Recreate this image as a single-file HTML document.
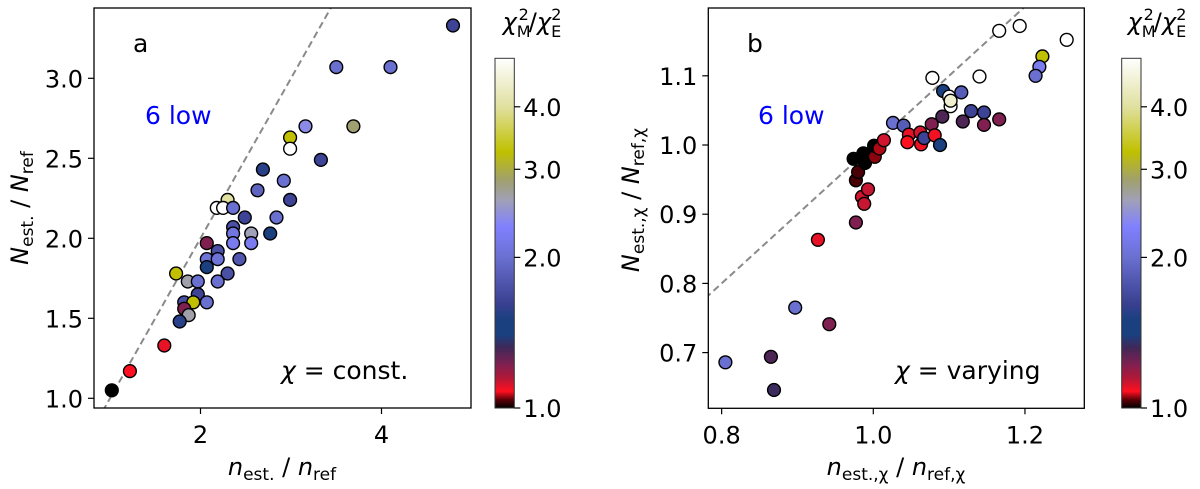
<!DOCTYPE html>
<html><head><meta charset="utf-8"><style>
html,body{margin:0;padding:0;background:#fff;}
svg{display:block;font-family:"DejaVu Sans","Liberation Sans",sans-serif;}
</style></head><body>
<svg id="fig" width="1200" height="489" viewBox="0 0 1200 489" xmlns="http://www.w3.org/2000/svg">
<defs>
<linearGradient id="cmap" x1="0" y1="1" x2="0" y2="0"></linearGradient>
</defs>
</svg>
<script>
// ---- data: panel a ----
const aX = [4.79,3.50,4.10,3.69,3.16,2.99,2.99,3.33,2.69,2.92,2.63,2.99,2.30,2.18,2.25,2.36,2.49,2.84,2.36,2.36,2.56,2.77,2.36,2.56,2.07,2.19,2.07,2.19,2.43,2.07,1.73,2.30,1.86,1.97,2.19,1.97,1.82,1.92,2.07,1.82,1.87,1.77,1.60,1.22,1.02];
const aY = [3.33,3.07,3.07,2.70,2.70,2.63,2.56,2.49,2.43,2.36,2.30,2.24,2.24,2.19,2.19,2.19,2.13,2.13,2.07,2.03,2.03,2.03,1.97,1.97,1.97,1.92,1.87,1.87,1.87,1.82,1.78,1.78,1.73,1.73,1.73,1.65,1.60,1.60,1.60,1.56,1.52,1.48,1.33,1.17,1.05];
const aC = [1.65,2.0,2.0,2.85,2.4,3.25,5.0,1.65,1.55,2.0,1.9,1.65,4.0,5.0,5.0,2.0,1.65,2.0,1.75,2.1,2.6,1.45,2.2,2.2,1.22,1.75,2.05,2.05,1.8,1.45,3.25,1.75,2.65,2.0,2.0,1.65,1.75,3.25,2.0,1.22,2.65,1.55,1.1,1.08,1.0];
// ---- data: panel b ----
const bX = [0.805,0.865,0.869,0.897,0.942,0.927,0.977,0.985,0.988,0.993,0.977,0.980,0.974,0.987,0.989,0.993,1.002,1.001,1.008,1.014,1.026,1.040,1.047,1.045,1.062,1.063,1.067,1.077,1.081,1.088,1.078,1.092,1.100,1.102,1.102,1.116,1.091,1.118,1.129,1.146,1.146,1.166,1.140,1.166,1.193,1.255,1.223,1.219,1.214];
const bY = [0.686,0.694,0.646,0.765,0.741,0.863,0.888,0.925,0.915,0.936,0.949,0.961,0.980,0.988,0.974,0.983,0.983,0.999,0.995,1.007,1.032,1.028,1.015,1.004,1.018,1.001,1.010,1.030,1.014,1.000,1.097,1.078,1.070,1.056,1.064,1.076,1.041,1.034,1.049,1.047,1.029,1.037,1.099,1.165,1.172,1.152,1.128,1.113,1.100];
const bC = [2.0,1.3,1.33,2.0,1.22,1.1,1.22,1.12,1.13,1.13,1.03,1.03,1.0,1.0,1.0,1.0,1.05,1.0,1.06,1.12,2.0,1.85,1.1,1.08,1.12,1.09,1.65,1.22,1.09,1.45,5.0,1.45,5.0,5.0,4.5,1.85,1.3,1.3,1.65,1.65,1.22,1.22,5.0,5.0,5.0,5.0,3.25,2.2,2.0];
// ---- ticks ----
const aXTicks = [2,4];
const aYTicks = [1.0,1.5,2.0,2.5,3.0];
const bXTicks = [0.8,1.0,1.2];
const bYTicks = [0.7,0.8,0.9,1.0,1.1];
const cbTicks = [1.0,2.0,3.0,4.0];

const NS = "http://www.w3.org/2000/svg";
const svg = document.getElementById('fig');
function mk(tag, attrs, parent){const e=document.createElementNS(NS,tag);for(const k in attrs)e.setAttribute(k,attrs[k]);(parent||svg).appendChild(e);return e;}

const stops = [[1.00,'#000000'],[1.04,'#600008'],[1.08,'#ff1020'],[1.15,'#b01838'],[1.22,'#802050'],[1.32,'#402858'],[1.40,'#1a4080'],[1.50,'#1a4080'],[1.62,'#3a4090'],[2.0,'#6a70d0'],[2.3,'#8080ff'],[2.6,'#a0a0b8'],[2.85,'#a0a070'],[3.25,'#c0c000'],[4.0,'#e0e0a0'],[5.0,'#ffffff']];
function hex(h){return [1,3,5].map(i=>parseInt(h.substr(i,2),16));}
function cmap(v){
  if(v<=stops[0][0])return stops[0][1];
  for(let i=1;i<stops.length;i++){if(v<=stops[i][0]){const a=stops[i-1],b=stops[i];const t=(v-a[0])/(b[0]-a[0]);const ca=hex(a[1]),cb=hex(b[1]);return 'rgb('+ca.map((c,j)=>Math.round(c+(cb[j]-c)*t)).join(',')+')';}}
  return stops[stops.length-1][1];
}
const grad = document.getElementById('cmap');
stops.forEach(s=>mk('stop',{offset:(Math.log10(s[0])/Math.log10(5)).toFixed(4),'stop-color':s[1]},grad));

const axA = {x0:94,x1:471,y0:8,y1:408, sx:v=>110+(v-1)*90.5, sy:v=>398.3-(v-1)*160};
const axB = {x0:708.3,x1:1084.3,y0:8,y1:408.3, sx:v=>873.3+(v-1)*758.3, sy:v=>145-(v-1)*692};

function panel(ax, X, Y, C, xt, yt, fmtx, fmty, name){
  const g = mk('g',{});
  
  
  const clip = mk('clipPath',{id:'clip-'+name},g);
  mk('rect',{x:ax.x0,y:ax.y0,width:ax.x1-ax.x0,height:ax.y1-ax.y0},clip);
  const dl = mk('line',{x1:ax.sx(0.5),y1:ax.sy(0.5),x2:ax.sx(6),y2:ax.sy(6),stroke:'#8a8a8a','stroke-width':2,'stroke-dasharray':'7,4','clip-path':'url(#clip-'+name+')'},g);
  
  
  for(let i=0;i<X.length;i++){
    const c = mk('circle',{cx:ax.sx(X[i]).toFixed(1),cy:ax.sy(Y[i]).toFixed(1),r:6.4,fill:cmap(C[i]),stroke:'#000','stroke-width':1.4},g);
    
    
  }
  const fr = mk('rect',{x:ax.x0,y:ax.y0,width:ax.x1-ax.x0,height:ax.y1-ax.y0,fill:'none',stroke:'#000','stroke-width':1.3},g);
  
  
  xt.forEach(v=>{
    const px=ax.sx(v);
    mk('line',{x1:px,y1:ax.y1,x2:px,y2:ax.y1+6,stroke:'#000','stroke-width':1.2},g);
    const t=mk('text',{x:px,y:ax.y1+35,'font-size':24,'text-anchor':'middle'},g);
    t.textContent=fmtx(v);
    
    
  });
  yt.forEach(v=>{
    const py=ax.sy(v);
    mk('line',{x1:ax.x0-6,y1:py,x2:ax.x0,y2:py,stroke:'#000','stroke-width':1.2},g);
    const t=mk('text',{x:ax.x0-11,y:py+9,'font-size':24,'text-anchor':'end'},g);
    t.textContent=fmty(v);
    
    
  });
}
panel(axA,aX,aY,aC,aXTicks,aYTicks,v=>String(v),v=>v.toFixed(1),'panel-a');
panel(axB,bX,bY,bC,bXTicks,bYTicks,v=>v.toFixed(1),v=>v.toFixed(1),'panel-b');

function colorbar(x,name){
  const g = mk('g',{});
  
  
  const top=58.3,bot=408,w=19.3;
  mk('rect',{x:x,y:top,width:w,height:bot-top,fill:'url(#cmap)',stroke:'#333','stroke-width':1},g);
  const L=Math.log10(5);
  cbTicks.forEach(v=>{
    const py=bot-(Math.log10(v)/L)*(bot-top);
    mk('line',{x1:x+w,y1:py,x2:x+w+6,y2:py,stroke:'#000','stroke-width':1.2},g);
    const t=mk('text',{x:x+w+9,y:py+9,'font-size':24},g);
    t.textContent=v.toFixed(1);
    
    
  });
}
colorbar(495,'colorbar-a');
colorbar(1121.7,'colorbar-b');
</script>
<svg width="1200" height="489" style="position:absolute;left:0;top:0" xmlns="http://www.w3.org/2000/svg" font-family="DejaVu Sans, Liberation Sans, sans-serif">
<text x="133" y="52" font-size="25">a</text>
<text x="145" y="124" font-size="25" fill="#0000ff">6 low</text>
<text x="281" y="379" font-size="25"><tspan font-style="italic">χ</tspan> = const.</text>
<text x="747" y="52" font-size="25">b</text>
<text x="758" y="124" font-size="25" fill="#0000ff">6 low</text>
<text x="895" y="379" font-size="25"><tspan font-style="italic">χ</tspan> = varying</text>
<text x="282" y="475" font-size="24" text-anchor="middle"><tspan font-style="italic">n</tspan><tspan font-size="17" dy="5">est.</tspan><tspan dy="-5"> / </tspan><tspan font-style="italic">n</tspan><tspan font-size="17" dy="5">ref</tspan></text>
<text x="896" y="475" font-size="24" text-anchor="middle"><tspan font-style="italic">n</tspan><tspan font-size="17" dy="5">est.,χ</tspan><tspan dy="-5"> / </tspan><tspan font-style="italic">n</tspan><tspan font-size="17" dy="5">ref,χ</tspan></text>
<text transform="translate(28,208) rotate(-90)" font-size="24" text-anchor="middle"><tspan font-style="italic">N</tspan><tspan font-size="17" dy="5">est.</tspan><tspan dy="-5"> / </tspan><tspan font-style="italic">N</tspan><tspan font-size="17" dy="5">ref</tspan></text>
<text transform="translate(639,200) rotate(-90)" font-size="24" text-anchor="middle"><tspan font-style="italic">N</tspan><tspan font-size="17" dy="5">est.,χ</tspan><tspan dy="-5"> / </tspan><tspan font-style="italic">N</tspan><tspan font-size="17" dy="5">ref,χ</tspan></text>
<text x="532" y="30" font-size="24" text-anchor="middle"><tspan font-style="italic">χ</tspan><tspan font-size="16" dy="7">M</tspan><tspan font-size="16" dx="-12" dy="-17">2</tspan><tspan dy="10">/</tspan><tspan font-style="italic">χ</tspan><tspan font-size="16" dy="7">E</tspan><tspan font-size="16" dx="-10" dy="-17">2</tspan></text>
<text x="1157" y="30" font-size="24" text-anchor="middle"><tspan font-style="italic">χ</tspan><tspan font-size="16" dy="7">M</tspan><tspan font-size="16" dx="-12" dy="-17">2</tspan><tspan dy="10">/</tspan><tspan font-style="italic">χ</tspan><tspan font-size="16" dy="7">E</tspan><tspan font-size="16" dx="-10" dy="-17">2</tspan></text>
</svg>
</body></html>
